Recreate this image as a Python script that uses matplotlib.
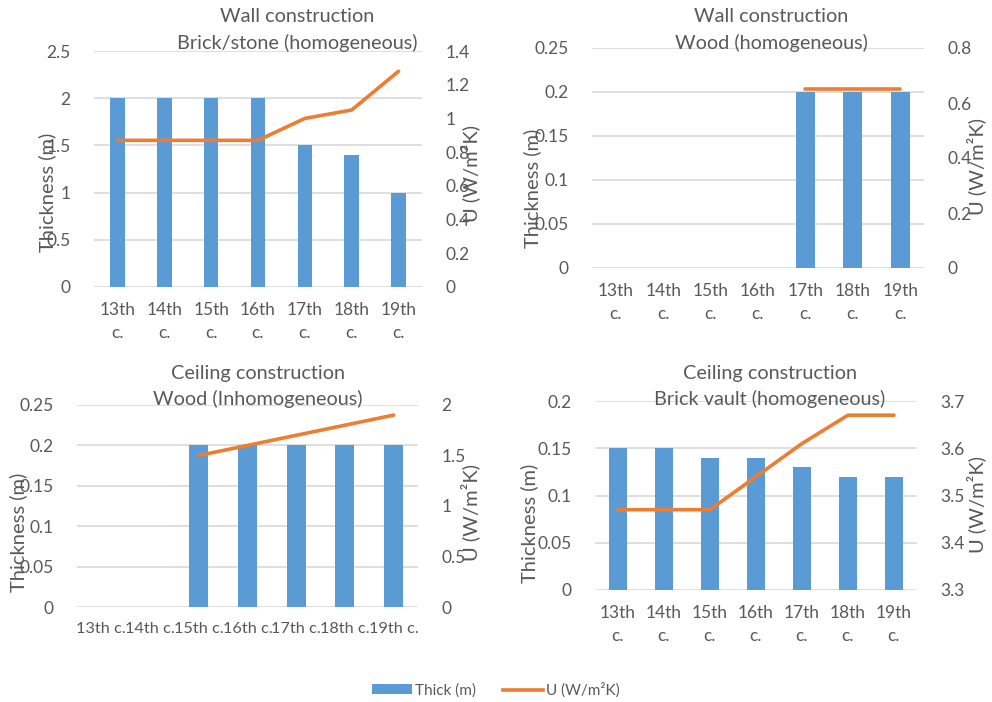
import numpy as np
import matplotlib
matplotlib.use('Agg')
from matplotlib import pyplot as plt
from matplotlib.patches import Patch
from matplotlib.lines import Line2D

plt.rcParams['font.family'] = ['Lato', 'DejaVu Sans']

centuries = ['13th', '14th', '15th', '16th', '17th', '18th', '19th']
nan = np.nan

# wall, brick/stone
wall_brick_thick = [2, 2, 2, 2, 1.5, 1.4, 1.0]
wall_brick_u = [0.87, 0.87, 0.87, 0.87, 1.0, 1.05, 1.28]
# wall, wood
wall_wood_thick = [nan, nan, nan, nan, 0.2, 0.2, 0.2]
wall_wood_u = [nan, nan, nan, nan, 0.65, 0.65, 0.65]
# ceiling, wood
ceil_wood_thick = [nan, nan, 0.2, 0.2, 0.2, 0.2, 0.2]
ceil_wood_u = [nan, nan, 1.5, 1.6, 1.7, 1.8, 1.9]
# ceiling, brick vault
ceil_vault_thick = [0.15, 0.15, 0.14, 0.14, 0.13, 0.12, 0.12]
ceil_vault_u = [3.47, 3.47, 3.47, 3.54, 3.61, 3.67, 3.67]

BLUE = '#5b9bd5'
ORANGE = '#ed7d31'
GREY = '#595959'
GRID = '#d9d9d9'

W, H = 992.0, 702.0


def px_rect(x0, y0, x1, y1):
    return [x0 / W, 1 - y1 / H, (x1 - x0) / W, (y1 - y0) / H]


panels = [
    dict(rect=px_rect(94, 51, 422, 287), thick=wall_brick_thick, u=wall_brick_u,
         ylim=(0, 2.5), yticks=[0, 0.5, 1, 1.5, 2, 2.5],
         ulim=(0, 1.4), uticks=[0, 0.2, 0.4, 0.6, 0.8, 1, 1.2, 1.4],
         title=('Wall construction', 'Brick/stone (homogeneous)'), tx=297,
         ty=17, bw=0.31, sep='\n', xfs=12.5, lab=(-0.143, 0.40), rlab=(1.146, 0.483)),
    dict(rect=px_rect(592, 48, 924, 268), thick=wall_wood_thick, u=wall_wood_u,
         ylim=(0, 0.25), yticks=[0, 0.05, 0.1, 0.15, 0.2, 0.25],
         ulim=(0, 0.8), uticks=[0, 0.2, 0.4, 0.6, 0.8],
         title=('Wall construction', 'Wood (homogeneous)'), tx=771,
         ty=17, bw=0.4, sep='\n', xfs=12.5, lab=(-0.179, 0.36), rlab=(1.157, 0.46)),
    dict(rect=px_rect(77, 405, 418, 607), thick=ceil_wood_thick, u=ceil_wood_u,
         ylim=(0, 0.25), yticks=[0, 0.05, 0.1, 0.15, 0.2, 0.25],
         ulim=(0, 2), uticks=[0, 0.5, 1, 1.5, 2],
         title=('Ceiling construction', 'Wood (Inhomogeneous)'), tx=258,
         ty=373, bw=0.39, sep=' ', xfs=11.8, lab=(-0.172, 0.37), rlab=(1.152, 0.47)),
    dict(rect=px_rect(595, 401, 917, 590), thick=ceil_vault_thick, u=ceil_vault_u,
         ylim=(0, 0.2), yticks=[0, 0.05, 0.1, 0.15, 0.2],
         ulim=(3.3, 3.7), uticks=[3.3, 3.4, 3.5, 3.6, 3.7],
         title=('Ceiling construction', 'Brick vault (homogeneous)'), tx=770,
         ty=373, bw=0.39, sep='\n', xfs=12.5, lab=(-0.203, 0.35), rlab=(1.184, 0.45)),
]

fig = plt.figure(figsize=(9.92, 7.02), dpi=100)

for p in panels:
    ax = fig.add_axes(p['rect'])
    x = np.arange(len(centuries))
    ax.bar(x, p['thick'], width=p['bw'], color=BLUE, zorder=2)
    ax.set_xlim(-0.5, 6.5)
    ax.set_ylim(*p['ylim'])
    ax.set_yticks(p['yticks'])
    ax.set_yticklabels(['%g' % v for v in p['yticks']])
    ax.set_xticks(x)
    ax.set_xticklabels([c + p['sep'] + 'c.' for c in centuries], linespacing=1.5,
                       fontsize=p['xfs'])
    ax.grid(axis='y', color=GRID, linewidth=1.2, zorder=0)
    ax.set_axisbelow(True)
    for s in ax.spines.values():
        s.set_visible(False)
    ax.tick_params(length=0, colors=GREY)
    ax.tick_params(axis='y', pad=17, labelsize=12.5)
    ax.tick_params(axis='x', pad=11)
    ax.set_ylabel('Thickness (m)', color=GREY, fontsize=14.5, va='center')
    ax.yaxis.set_label_coords(*p['lab'])

    ax2 = ax.twinx()
    ax2.plot(x, p['u'], color=ORANGE, linewidth=2.6, solid_capstyle='round', zorder=3)
    ax2.set_ylim(*p['ulim'])
    ax2.set_yticks(p['uticks'])
    ax2.set_yticklabels(['%g' % v for v in p['uticks']])
    for s in ax2.spines.values():
        s.set_visible(False)
    ax2.tick_params(length=0, colors=GREY, labelsize=12.5, pad=17)
    ax2.set_ylabel('U (W/m²K)', color=GREY, fontsize=14.5, va='center')
    ax2.yaxis.set_label_coords(*p['rlab'])

    fig.text(p['tx'] / W, 1 - p['ty'] / H, p['title'][0], ha='center', va='center',
             color=GREY, fontsize=14.3)
    fig.text(p['tx'] / W, 1 - (p['ty'] + 26) / H, p['title'][1], ha='center', va='center',
             color=GREY, fontsize=14.3)

handles = [Patch(facecolor=BLUE, edgecolor='none'),
           Line2D([0], [0], color=ORANGE, linewidth=2.6)]
fig.legend(handles, ['Thick (m)', 'U (W/m²K)'], loc='center', bbox_to_anchor=(0.5, 1 - 690 / H),
           ncol=2, frameon=False, fontsize=11, labelcolor=GREY, handlelength=2.6,
           handleheight=0.6, columnspacing=1.8, handletextpad=0.2)

fig.savefig('out.png', dpi=100)
